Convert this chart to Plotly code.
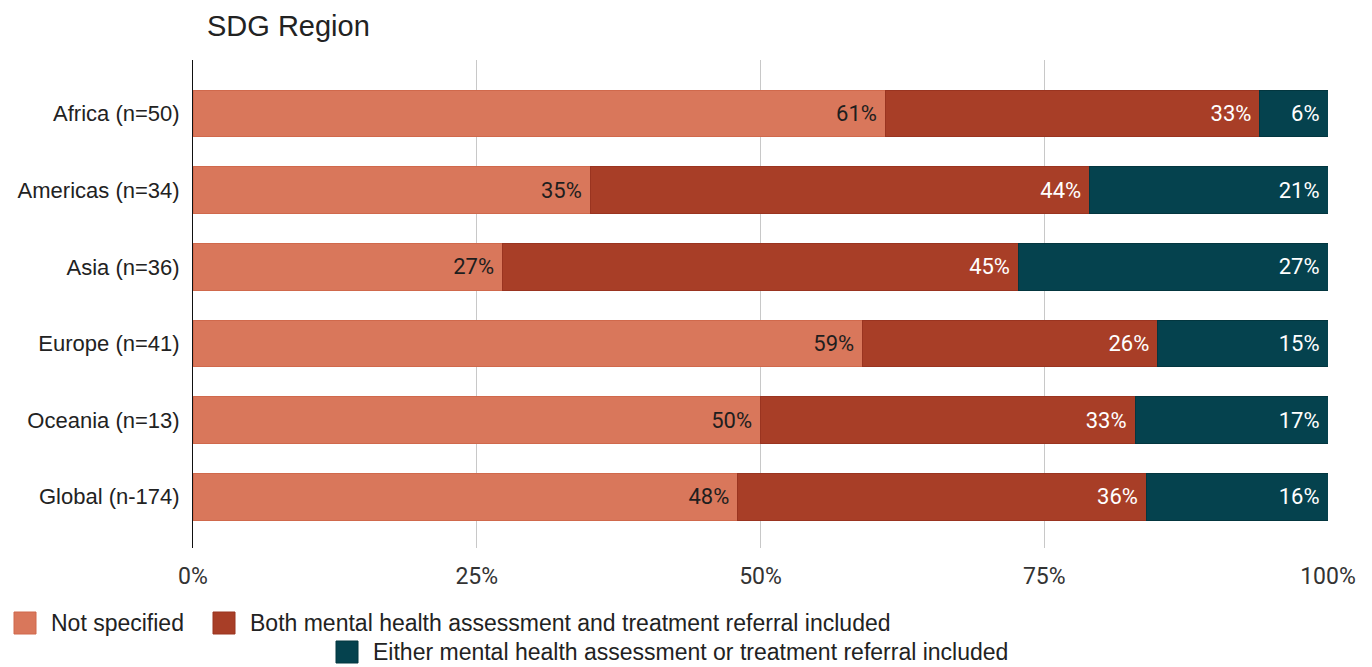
import plotly.graph_objects as go

# Share of studies per SDG region, by mental-health follow-up reported
regions = ["Africa (n=50)", "Americas (n=34)", "Asia (n=36)",
           "Europe (n=41)", "Oceania (n=13)", "Global (n-174)"]
not_specified = [61, 35, 27, 59, 50, 48]
both_included = [33, 44, 45, 26, 33, 36]
either_included = [6, 21, 27, 15, 17, 16]

series_names = ["Not specified",
                "Both mental health assessment and treatment referral included",
                "Either mental health assessment or treatment referral included"]
series_values = [not_specified, both_included, either_included]
fill_colors = ["#D9775B", "#A83E27", "#05424E"]
edge_colors = ["#D0694C", "#9A3420", "#03363F"]
text_colors = ["#1E1E1E", "#FFFFFF", "#FFFFFF"]

x_ticks = [0, 25, 50, 75, 100]
x_tick_labels = ["0%", "25%", "50%", "75%", "100%"]

W, H = 1372, 667
ML, MR, MT, MB = 193, 44, 60, 119
PW, PH = W - ML - MR, H - MT - MB

fig = go.Figure()
for name, vals, fc, ec, tc in zip(series_names, series_values,
                                  fill_colors, edge_colors, text_colors):
    fig.add_trace(go.Bar(
        y=regions, x=vals, name=name, orientation="h",
        marker=dict(color=fc, line=dict(color=ec, width=1)),
        width=0.61,
        text=[f"{v}%\u00a0" for v in vals],
        textposition="inside", insidetextanchor="end",
        textangle=0, constraintext="none",
        textfont=dict(family="Roboto", size=22, color=tc),
        showlegend=False, hoverinfo="x+y+name",
    ))

# Legend drawn as square swatches with labels, laid out in two rows
def px_to_paper_x(px):
    return (px - ML) / PW

def px_to_paper_y(py):
    return (MT + PH - py) / PH

legend_rows = [(14, 623), (213, 623), (336, 652)]
shapes = []
annotations = []
for (lx, ly), name, fc, ec in zip(legend_rows, series_names, fill_colors, edge_colors):
    shapes.append(dict(
        type="rect", xref="paper", yref="paper",
        x0=px_to_paper_x(lx), x1=px_to_paper_x(lx + 22),
        y0=px_to_paper_y(ly + 11), y1=px_to_paper_y(ly - 11),
        fillcolor=fc, line=dict(color=ec, width=1), layer="above",
    ))
    annotations.append(dict(
        xref="paper", yref="paper", x=px_to_paper_x(lx + 35), y=px_to_paper_y(ly),
        xanchor="left", yanchor="middle", showarrow=False, text=name,
        font=dict(family="Liberation Sans, Arial", size=23, color="#222222"),
    ))

fig.update_layout(
    width=W, height=H,
    margin=dict(l=ML, r=MR, t=MT, b=MB, pad=0),
    barmode="stack", barnorm="percent",
    plot_bgcolor="white", paper_bgcolor="white",
    title=dict(text="SDG Region", x=207 / W, xref="container", xanchor="left",
               y=1 - 26 / H, yref="container", yanchor="middle",
               font=dict(family="Liberation Sans, Arial", size=29, color="#222222")),
    xaxis=dict(range=[0, 100], tickvals=x_ticks, ticktext=x_tick_labels,
               showgrid=True, gridcolor="#C8C8C8", gridwidth=1,
               zeroline=False, showline=False, ticks="",
               ticklabelstandoff=12,
               tickfont=dict(family="Roboto", size=23, color="#333333"),
               fixedrange=True),
    yaxis=dict(categoryorder="array", categoryarray=regions,
               range=[5.67, -0.70], showgrid=False, zeroline=False,
               showline=True, linecolor="#111111", linewidth=1,
               ticks="", ticklabelstandoff=8,
               tickfont=dict(family="Liberation Sans, Arial", size=22, color="#222222"),
               fixedrange=True),
    shapes=shapes, annotations=annotations,
    showlegend=False,
)

fig.write_html("out.html")
